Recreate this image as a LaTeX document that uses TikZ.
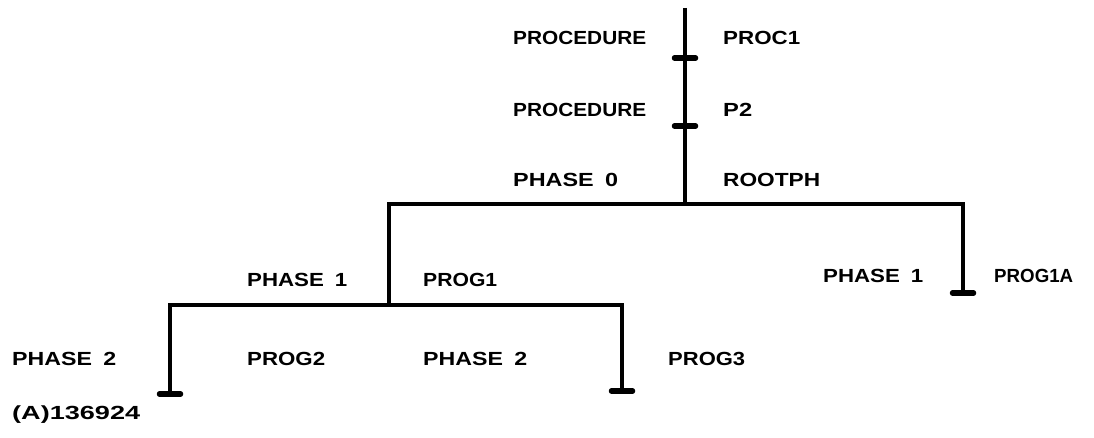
\documentclass[tikz,border=0pt]{standalone}
\usepackage{fontspec}
\setmainfont{Liberation Sans}
\usepackage{graphicx}
\newcommand\fitw[2]{\resizebox{#1}{\height}{#2}}
\begin{document}
\begin{tikzpicture}[x=1pt,y=-1pt,
  wire/.style={line width=3.8pt,line join=miter},
  tickmark/.style={line width=5.5pt,line cap=round},
  lbl/.style={anchor=base west,inner sep=0pt,font=\fontsize{19}{19}\selectfont\bfseries}]
\useasboundingbox (0,0) rectangle (1094,438);
% junctions
\coordinate (top) at (685,8);
\coordinate (t1) at (685,58);
\coordinate (t2) at (685,126);
\coordinate (root) at (685,204);
\coordinate (L0) at (389,204);
\coordinate (R0) at (963,204);
\coordinate (R1) at (963,293);
\coordinate (L1) at (389,305);
\coordinate (LL) at (170,305);
\coordinate (LR) at (622,305);
\coordinate (LLe) at (170,394);
\coordinate (LRe) at (622,391);
% wires
\draw[wire] (top) -- (root);
\draw[wire] (L1) -- (L0) -- (R0) -- (R1);
\draw[wire] (LLe) -- (LL) -- (LR) -- (LRe);
% ticks
\foreach \c in {t1,t2,R1,LLe,LRe}
  \draw[tickmark] ([xshift=-10.5pt]\c) -- ([xshift=10.5pt]\c);
% labels
\node[lbl] (a1) at (513,45) {\fitw{133pt}{PROCEDURE}};
\node[lbl] (b1) at (723,45) {\fitw{77pt}{PROC1}};
\node[lbl] (a2) at (513,117) {\fitw{133pt}{PROCEDURE}};
\node[lbl] (b2) at (723,117) {\fitw{29pt}{P2}};
\node[lbl] (a3) at (513,187) {\fitw{105pt}{PHASE\hspace{4pt} 0}};
\node[lbl] (b3) at (723,187) {\fitw{97pt}{ROOTPH}};
\node[lbl] (a4) at (247,287) {\fitw{100pt}{PHASE\hspace{4pt} 1}};
\node[lbl] (b4) at (423,287) {\fitw{74pt}{PROG1}};
\node[lbl] (a5) at (823,282) {\fitw{100pt}{PHASE\hspace{4pt} 1}};
\node[lbl] (b5) at (994,282) {\fitw{79pt}{PROG1A}};
\node[lbl] (a6) at (12,365) {\fitw{104pt}{PHASE\hspace{4pt} 2}};
\node[lbl] (b6) at (247,365) {\fitw{78pt}{PROG2}};
\node[lbl] (a7) at (423,365) {\fitw{104pt}{PHASE\hspace{4pt} 2}};
\node[lbl] (b7) at (668,365) {\fitw{77pt}{PROG3}};
\node[lbl] (id) at (12,419) {\fitw{128pt}{(A)136924}};
\end{tikzpicture}
\end{document}
